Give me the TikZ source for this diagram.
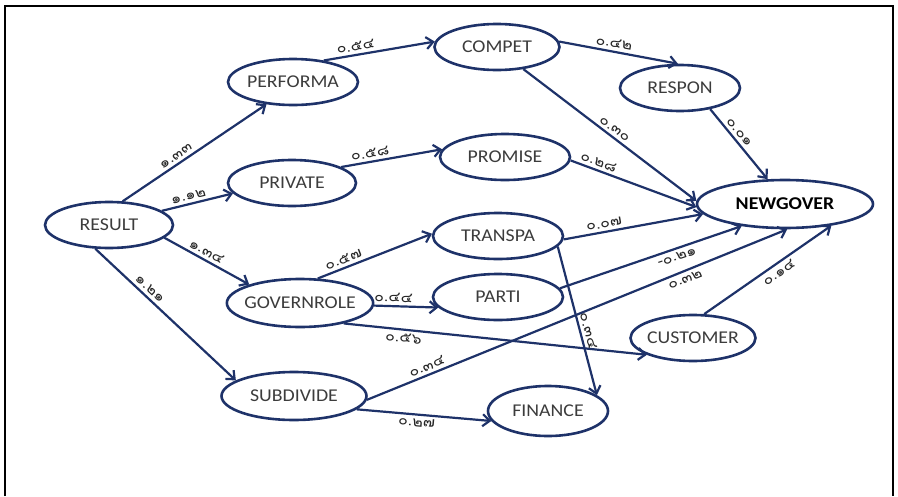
\documentclass[tikz,border=0pt]{standalone}
\usepackage{fontspec}
\setmainfont{Carlito}
\newfontfamily\varfont[FakeStretch=1.1]{Carlito}
\newfontfamily\thaifont[Script=Thai,FakeStretch=1.15]{Loma}
\usepackage{tikz}
\usetikzlibrary{shapes.geometric, arrows.meta}
\definecolor{pathnavy}{RGB}{30, 50, 105}
\definecolor{vartext}{RGB}{60, 60, 60}

\tikzset{
  varnode/.style={ellipse, draw=pathnavy, line width=2.6pt, minimum width=#1, minimum height=46pt,
    inner xsep=-4pt, inner ysep=0pt, font=\varfont\fontsize{18}{21}\selectfont, text=vartext},
  varnode/.default=130pt,
  link/.style={-{Straight Barb[length=7pt, width=12pt]}, draw=pathnavy, line width=2.2pt},
  coef/.style={font=\thaifont\fontsize{14}{16}\selectfont, sloped, inner sep=3pt, text=black!85}
}

\begin{document}
\begin{tikzpicture}[x=1pt, y=-1pt]
  \useasboundingbox (0,0) rectangle (898,496);
  % frame
  \draw[line width=1.6pt] (5,496) -- (5,6) -- (893,6) -- (893,496);

  % variables
  \node[varnode=128pt] (RESULT) at (109,225) {RESULT};
  \node[varnode] (PERFORMA) at (293,82) {PERFORMA};
  \node[varnode=128pt] (PRIVATE) at (292,183) {PRIVATE};
  \node[varnode=144pt, minimum height=48pt] (GOVERNROLE) at (300,303) {GOVERNROLE};
  \node[varnode=145pt, minimum height=48pt] (SUBDIVIDE) at (294,396) {SUBDIVIDE};
  \node[varnode=125pt] (COMPET) at (497,47) {COMPET};
  \node[varnode] (PROMISE) at (505,157) {PROMISE};
  \node[varnode] (TRANSPA) at (498,236) {TRANSPA};
  \node[varnode] (PARTI) at (498,297) {PARTI};
  \node[varnode=120pt, minimum height=50pt] (FINANCE) at (548,411) {FINANCE};
  \node[varnode=120pt] (RESPON) at (680,88) {RESPON};
  \node[varnode=125pt] (CUSTOMER) at (693,338) {CUSTOMER};
  \node[varnode=176pt, minimum height=48pt, text=black, font=\varfont\fontsize{18}{21}\selectfont\bfseries] (NEWGOVER) at (785,204) {NEWGOVER};

  % paths from RESULT
  \draw[link] (RESULT.60) -- node[coef, above, pos=0.4] {๑.๓๓} (PERFORMA.-140);
  \draw[link] (RESULT.15) -- node[coef, above, pos=0.4] {๑.๑๒} (PRIVATE.190);
  \draw[link] (RESULT.-13) -- node[coef, above, pos=0.45] {๑.๓๔} (GOVERNROLE.160);
  \draw[link] (RESULT.-120) -- node[coef, above, pos=0.35] {๑.๒๑} (SUBDIVIDE.165);

  % second level
  \draw[link] (PERFORMA.35) -- node[coef, above, pos=0.3] {๐.๕๔} (COMPET.175);
  \draw[link] (PRIVATE.18) -- node[coef, above, pos=0.3] {๐.๕๘} (PROMISE.173);
  \draw[link] (GOVERNROLE.54) -- node[coef, above, pos=0.25] {๐.๕๗} (TRANSPA.178);
  \draw[link] (GOVERNROLE.-2) -- node[coef, above, pos=0.3] {๐.๔๔} (PARTI.190);
  \draw[link] (GOVERNROLE.-25) -- node[coef, below, pos=0.2] {๐.๕๖} (CUSTOMER.200);
  \draw[link] (SUBDIVIDE.-12) -- node[coef, below, pos=0.45] {๐.๒๗} (FINANCE.190);
  \draw[link] (COMPET.5) -- node[coef, above, pos=0.45] {๐.๔๒} (RESPON.95);
  \draw[link] (TRANSPA.-10) -- node[coef, above, pos=0.58] {๐.๓๔} (FINANCE.18);

  % into NEWGOVER
  \draw[link] (COMPET.-40) -- node[coef, above, pos=0.5] {๐.๓๐} (NEWGOVER.178);
  \draw[link] (PROMISE.-3) -- node[coef, above, pos=0.2] {๐.๒๘} (NEWGOVER.182);
  \draw[link] (RESPON.-35) -- node[coef, above, pos=0.4] {๐.๐๑} (NEWGOVER.125);
  \draw[link] (TRANSPA.-3) -- node[coef, above, pos=0.3] {๐.๐๗} (NEWGOVER.187);
  \draw[link] (PARTI.8) -- node[coef, below, pos=0.63] {-๐.๒๑} (NEWGOVER.207);
  \draw[link] (SUBDIVIDE.-3) -- node[coef, above, pos=0.15] {๐.๓๔}
    node[coef, below, pos=0.75] {๐.๓๒} (NEWGOVER.-85);
  \draw[link] (CUSTOMER.65) -- node[coef, below, pos=0.55] {๐.๑๔} (NEWGOVER.-25);
\end{tikzpicture}
\end{document}
